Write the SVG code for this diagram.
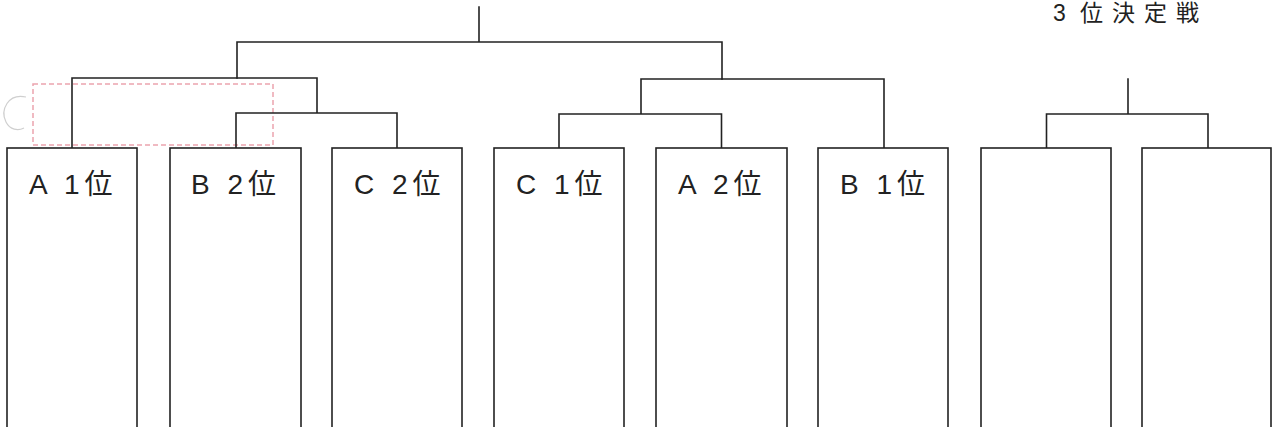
<svg xmlns="http://www.w3.org/2000/svg" width="1276" height="427" viewBox="0 0 1276 427">
<style>
.box{fill:#fff;stroke:#222;stroke-width:1.6}
.ln{fill:none;stroke:#222;stroke-width:1.6;stroke-linecap:square}
.lbl{font-family:"Liberation Sans","Noto Sans CJK JP",sans-serif;font-size:28px;fill:#222;letter-spacing:5px}
.ttl{font-family:"Liberation Sans","Noto Sans CJK JP",sans-serif;font-size:23px;fill:#222;letter-spacing:9px}
.note{fill:none;stroke:#eba4ae;stroke-width:1.5;stroke-dasharray:5 3}
</style>
<rect width="1276" height="427" fill="#fff"/>
<g id="annotation">
<rect class="note" x="33" y="84" width="240" height="61"/>
<path d="M26 97 C 8 93, 0 110, 6 122 C 10 130, 18 131, 24 128" fill="none" stroke="#cfcfcf" stroke-width="1.2"/>
</g>
<g id="connectors">
<path class="ln" d="M479 7 V42 M237 42 H722 M237 42 V78 M722 42 V79"/>
<path class="ln" d="M72 148 V78 H317 V113 M236 148 V113 H397 V148"/>
<path class="ln" d="M884 148 V79 H641 V114 M559 148 V114 H721.5 V148"/>
<path class="ln" d="M1128 79 V114 M1046.5 148 V114 H1208 V148"/>
</g>
<g id="n1"><rect class="box" x="7" y="148" width="130" height="300"/><text class="lbl" x="29" y="194">A 1位</text></g>
<g id="n2"><rect class="box" x="170" y="148" width="131" height="300"/><text class="lbl" x="191" y="194">B 2位</text></g>
<g id="n3"><rect class="box" x="332" y="148" width="130" height="300"/><text class="lbl" x="354" y="194">C 2位</text></g>
<g id="n4"><rect class="box" x="494" y="148" width="130" height="300"/><text class="lbl" x="516" y="194">C 1位</text></g>
<g id="n5"><rect class="box" x="656" y="148" width="131" height="300"/><text class="lbl" x="678" y="194">A 2位</text></g>
<g id="n6"><rect class="box" x="818" y="148" width="130" height="300"/><text class="lbl" x="840" y="194">B 1位</text></g>
<g id="n7"><rect class="box" x="981" y="148" width="130" height="300"/></g>
<g id="n8"><rect class="box" x="1142" y="148" width="129" height="300"/></g>
<g id="title"><text class="ttl" y="21"><tspan x="1053">3</tspan><tspan x="1080">位決定戦</tspan></text></g>
</svg>
